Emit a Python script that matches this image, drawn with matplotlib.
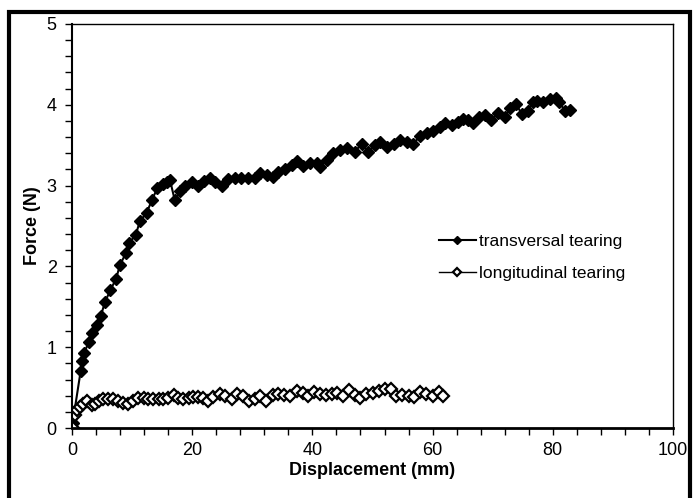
import matplotlib
matplotlib.use("Agg")
import matplotlib.pyplot as plt
from matplotlib.patches import Rectangle
from matplotlib.ticker import MultipleLocator

plt.rcParams['font.family'] = ['Liberation Sans', 'DejaVu Sans']

# transversal tearing
trans_x = [0.1, 1.45, 1.6, 2.0, 2.8, 3.4, 4.1, 4.8, 5.5, 6.4, 7.3, 8.0, 9.0, 9.5,
           10.6, 11.3, 12.4, 13.3, 14.2, 15.1, 15.8, 16.3, 17.1, 18.0, 18.8, 19.9,
           20.9, 21.9, 23.0, 23.8, 24.9, 26.0, 27.1, 28.2, 29.3, 30.4, 31.3, 32.4,
           33.5, 34.3, 35.4, 36.6, 37.4, 38.5, 39.6, 40.7, 41.3, 42.4, 43.5, 44.6,
           45.7, 47.1, 48.2, 49.3, 50.4, 51.2, 52.4, 53.5, 54.6, 55.7, 56.8, 57.9,
           59.0, 60.1, 61.2, 62.1, 63.2, 64.3, 65.1, 65.9, 66.8, 67.8, 68.7, 69.8,
           70.9, 72.0, 72.9, 73.9, 74.8, 75.8, 76.7, 77.4, 78.4, 79.5, 80.5, 81.1,
           82.0, 82.9]
trans_y = [0.06, 0.71, 0.83, 0.93, 1.06, 1.18, 1.27, 1.39, 1.56, 1.71, 1.84, 2.02, 2.17, 2.29,
           2.39, 2.56, 2.66, 2.82, 2.97, 3.02, 3.04, 3.07, 2.82, 2.93, 3.00, 3.05,
           3.00, 3.06, 3.09, 3.05, 3.00, 3.08, 3.09, 3.10, 3.09, 3.10, 3.15, 3.13,
           3.11, 3.17, 3.21, 3.25, 3.30, 3.24, 3.28, 3.28, 3.23, 3.32, 3.40, 3.44,
           3.46, 3.42, 3.52, 3.42, 3.50, 3.54, 3.48, 3.52, 3.56, 3.54, 3.52, 3.61,
           3.65, 3.67, 3.72, 3.77, 3.75, 3.79, 3.82, 3.81, 3.77, 3.85, 3.87, 3.81,
           3.90, 3.85, 3.96, 4.01, 3.89, 3.92, 4.04, 4.05, 4.03, 4.07, 4.08, 4.04,
           3.92, 3.93]

# longitudinal tearing
long_x = [0.1, 0.5, 0.9, 1.3, 1.9, 2.5, 3.3, 3.8, 4.5, 5.2, 6.0, 6.9, 7.7, 8.5,
          9.4, 10.2, 11.0, 11.9, 12.7, 13.5, 14.4, 15.2, 16.0, 16.9, 17.7, 18.5,
          19.4, 20.2, 21.0, 21.8, 22.7, 23.5, 24.6, 25.5, 26.6, 27.4, 28.5, 29.5,
          30.4, 31.2, 32.3, 33.4, 34.3, 35.2, 36.2, 37.4, 38.4, 39.3, 40.3, 41.3,
          42.3, 43.2, 44.1, 45.1, 46.1, 47.1, 48.0, 49.0, 50.0, 51.1, 52.1, 53.0,
          53.9, 54.9, 56.0, 56.9, 57.9, 58.9, 60.0, 61.0, 61.8]
long_y = [0.0, 0.16, 0.22, 0.26, 0.30, 0.33, 0.29, 0.30, 0.33, 0.36, 0.36, 0.36, 0.33, 0.31,
          0.30, 0.33, 0.37, 0.37, 0.36, 0.36, 0.36, 0.36, 0.37, 0.41, 0.37, 0.36,
          0.37, 0.38, 0.38, 0.37, 0.33, 0.38, 0.42, 0.39, 0.36, 0.42, 0.39, 0.34,
          0.36, 0.39, 0.34, 0.41, 0.42, 0.41, 0.40, 0.46, 0.43, 0.39, 0.45, 0.42,
          0.41, 0.42, 0.43, 0.40, 0.47, 0.41, 0.37, 0.42, 0.43, 0.46, 0.48, 0.48,
          0.40, 0.41, 0.40, 0.38, 0.45, 0.42, 0.39, 0.45, 0.40]

fig = plt.figure(figsize=(6.94, 4.98), dpi=100)
ax = fig.add_axes([72/694, 1-428/498, 601/694, 404/498])

ax.plot(trans_x, trans_y, color='black', lw=1.5, marker='D', markersize=6,
        markerfacecolor='black', markeredgecolor='black', label='transversal tearing')
ax.plot(long_x, long_y, color='black', lw=1, marker='D', markersize=6,
        markerfacecolor='white', markeredgecolor='black', markeredgewidth=1.6,
        label='longitudinal tearing')

ax.set_xlim(0, 100)
ax.set_ylim(0, 5)
ax.xaxis.set_major_locator(MultipleLocator(20))
ax.xaxis.set_minor_locator(MultipleLocator(4))
ax.yaxis.set_major_locator(MultipleLocator(1))
ax.yaxis.set_minor_locator(MultipleLocator(0.2))
ax.tick_params(which='both', direction='out', length=5, width=1, labelsize=13)
ax.tick_params(axis='x', pad=5)
ax.tick_params(axis='y', pad=6)

ax.spines['bottom'].set_linewidth(2)
ax.spines['left'].set_linewidth(1.5)
ax.spines['top'].set_linewidth(1)
ax.spines['right'].set_linewidth(1)

ax.set_xlabel('Displacement (mm)', fontsize=13, fontweight='bold', labelpad=2)
ax.set_ylabel('Force (N)', fontsize=13, fontweight='bold', labelpad=4)

ax.legend(loc='upper left', bbox_to_anchor=(0.585, 0.52), frameon=False, fontsize=12.5,
          handlelength=2.1, handletextpad=0.2, labelspacing=1.0, markerscale=0.75)

fig.add_artist(Rectangle((9/694, -0.05), 681/694, 1.05 - 12/498, transform=fig.transFigure,
                         fill=False, edgecolor='black', lw=3, clip_on=False))

plt.savefig('out.png', dpi=100)
